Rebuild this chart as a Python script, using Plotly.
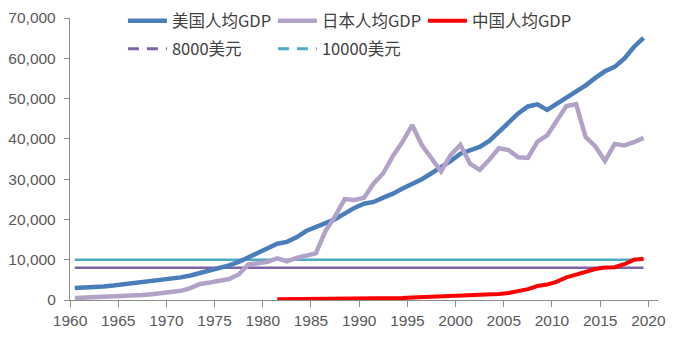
import plotly.graph_objects as go

years = list(range(1960, 2020))
us_gdp = [3007, 3067, 3244, 3375, 3574, 3828, 4146, 4336, 4696, 5032,
          5234, 5609, 6094, 6726, 7226, 7801, 8592, 9453, 10565, 11674,
          12575, 13976, 14434, 15544, 17121, 18237, 19071, 20039, 21417, 22857,
          23889, 24342, 25419, 26387, 27695, 28691, 29968, 31459, 32854, 34515,
          36330, 37134, 37998, 39490, 41725, 44123, 46302, 48050, 48570, 47195,
          48651, 50066, 51784, 53291, 55124, 56763, 57867, 59915, 62805, 65095]
jp_gdp = [479, 563, 634, 717, 835, 919, 1058, 1228, 1450, 1669,
          2037, 2272, 2967, 3997, 4354, 4659, 5198, 6335, 8821, 9105,
          9463, 10361, 9578, 10425, 10984, 11585, 17112, 20745, 25052, 24813,
          25359, 28925, 31465, 35766, 39269, 43440, 38437, 35022, 31903, 36027,
          38532, 33846, 32289, 34808, 37688, 37218, 35434, 35275, 39339, 40855,
          44508, 48168, 48603, 40454, 38109, 34524, 38761, 38387, 39159, 40247]
cn_years = list(range(1981, 2020))
cn_gdp = [197, 203, 225, 251, 294, 282, 252, 284, 311, 318,
          333, 366, 377, 473, 610, 709, 782, 829, 873, 959,
          1053, 1149, 1289, 1509, 1753, 2099, 2694, 3468, 3832, 4550,
          5618, 6317, 7051, 7679, 8067, 8148, 8879, 9977, 10217]
ref_8000 = [8000] * len(years)
ref_10000 = [10000] * len(years)

names = ["美国人均GDP", "日本人均GDP", "中国人均GDP", "8000美元", "10000美元"]

# points sit in the middle of each year slot
xs = [y + 0.5 for y in years]
cn_xs = [y + 0.5 for y in cn_years]

C_US = "#4A7EBB"
C_JP = "#B3A2C7"
C_CN = "#FF0000"
C_8K = "#7F63A8"
C_10K = "#4BACC6"

fig = go.Figure()
fig.add_trace(go.Scatter(x=xs, y=ref_10000, mode="lines", line=dict(color=C_10K, width=2.5),
                         showlegend=False))
fig.add_trace(go.Scatter(x=xs, y=ref_8000, mode="lines", line=dict(color=C_8K, width=2.5),
                         showlegend=False))
fig.add_trace(go.Scatter(x=xs, y=us_gdp, mode="lines", name=names[0],
                         line=dict(color=C_US, width=4.5), legend="legend"))
fig.add_trace(go.Scatter(x=xs, y=jp_gdp, mode="lines", name=names[1],
                         line=dict(color=C_JP, width=4.5), legend="legend"))
fig.add_trace(go.Scatter(x=cn_xs, y=cn_gdp, mode="lines", name=names[2],
                         line=dict(color=C_CN, width=4), legend="legend"))
# legend-only entries (dashed samples as in the original legend)
fig.add_trace(go.Scatter(x=[None], y=[None], mode="lines", name=names[3],
                         line=dict(color=C_8K, width=3, dash="11px,8px"), legend="legend2"))
fig.add_trace(go.Scatter(x=[None], y=[None], mode="lines", name=names[4],
                         line=dict(color=C_10K, width=3, dash="11px,8px"), legend="legend2"))

tick_font = dict(family="Liberation Sans, Arial, sans-serif", size=15.5, color="#595959")
leg_font = dict(family="Noto Sans CJK SC, sans-serif", size=16.5, color="#404040")

fig.update_layout(
    width=677, height=337,
    margin=dict(l=70, r=19, t=18, b=37, autoexpand=False),
    paper_bgcolor="white", plot_bgcolor="white",
    xaxis=dict(range=[1960, 2021], tickmode="array", tickvals=list(range(1960, 2021, 5)),
               showgrid=False, zeroline=False, showline=True, linecolor="#8C8C8C", linewidth=1.3,
               ticks="outside", ticklen=6, tickcolor="#8C8C8C", tickwidth=1.3,
               tickfont=tick_font),
    yaxis=dict(range=[0, 70000], tickmode="array", tickvals=list(range(0, 70001, 10000)),
               tickformat=",d", showgrid=False, zeroline=False, showline=True,
               linecolor="#8C8C8C", linewidth=1.3, ticks="outside", ticklen=5,
               tickcolor="#8C8C8C", tickwidth=1.3, tickfont=tick_font, ticklabelstandoff=5),
    legend=dict(orientation="h", x=0.09, xanchor="left", y=0.989, yanchor="middle",
                traceorder="normal", font=leg_font, itemwidth=39, entrywidth=96,
                entrywidthmode="pixels", bgcolor="rgba(0,0,0,0)"),
    legend2=dict(orientation="h", x=0.09, xanchor="left", y=0.890, yanchor="middle",
                 traceorder="normal", font=leg_font, itemwidth=39, entrywidth=96,
                 entrywidthmode="pixels", bgcolor="rgba(0,0,0,0)"),
)

fig.write_html("out.html")
